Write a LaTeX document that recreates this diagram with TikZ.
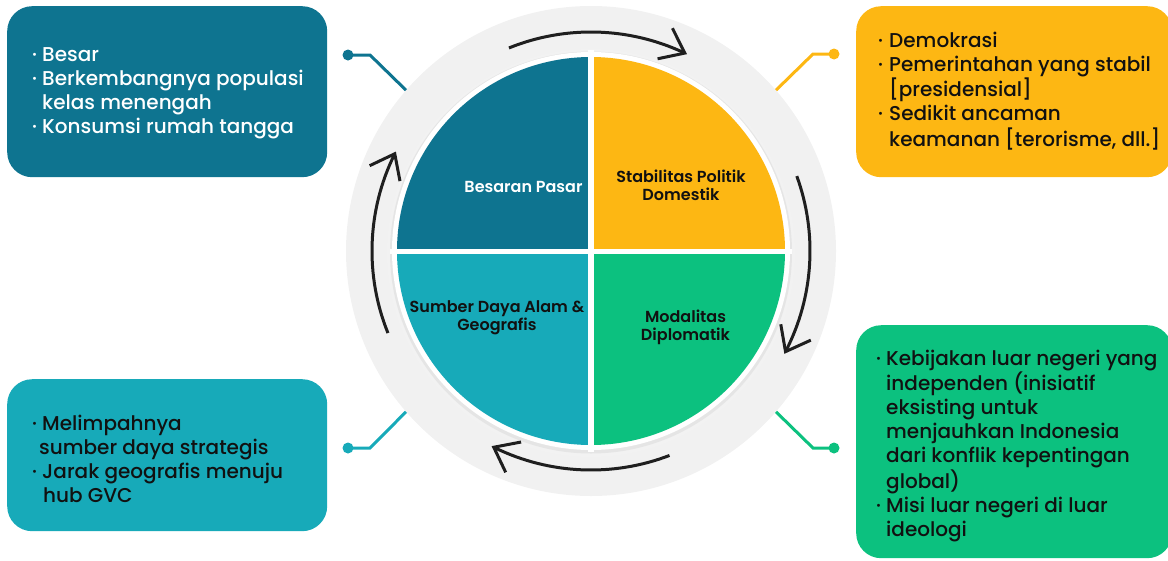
\documentclass[tikz,border=0pt]{standalone}
\usepackage{fontspec}
\setmainfont{Poppins}
\newfontface\pmed{Poppins Medium}
\newfontface\psemi{Poppins SemiBold}
\usetikzlibrary{arrows.meta,bending}
\definecolor{cA}{HTML}{0E7490}
\definecolor{cB}{HTML}{17AAB9}
\definecolor{cC}{HTML}{FDB713}
\definecolor{cD}{HTML}{0CC17F}
\definecolor{ringgray}{HTML}{F1F1F1}
\definecolor{txt}{HTML}{111111}
\newcommand{\myb}[1][10pt]{\makebox[#1][l]{·}}
\newcommand{\myi}[1][10pt]{\hspace*{#1}}
\begin{document}
\begin{tikzpicture}[x=1pt,y=1pt,
  infobox/.style={rounded corners=25pt, inner sep=0pt, anchor=north west},
  conn/.style={line width=3pt},
  dot/.style={circle, inner sep=0pt, minimum size=11pt},
  cyc/.style={line width=3pt, draw=black!88, -{Straight Barb[length=22pt,width=34pt,flex]}},
  boxtxt/.style={anchor=base west, inner sep=0pt, font=\pmed\fontsize{20}{24}\selectfont},
  qlab/.style={anchor=base, inner sep=0pt, font=\psemi\fontsize{16}{18.5}\selectfont}
]
\useasboundingbox (0,0) rectangle (1168,-560);

% info boxes
\node[infobox, fill=cA, minimum width=320pt, minimum height=171pt] (b1) at (7,-6) {};
\node[infobox, fill=cB, minimum width=320pt, minimum height=152pt] (b2) at (7,-379) {};
\node[infobox, fill=cC, minimum width=316pt, minimum height=171pt] (b3) at (856,-6) {};
\node[infobox, fill=cD, minimum width=316pt, minimum height=233pt] (b4) at (856,-325) {};

% ring
\node[circle, fill=ringgray, inner sep=0pt, minimum size=490pt] (ring) at (591,-251) {};

% pie
\fill[black!5] (591,-253) circle[radius=204];
\fill[black!10] (591,-252.5) circle[radius=201];
\fill[white] (591,-251) circle[radius=199];
\fill[cA] (591,-251) -- ++(0,194) arc[start angle=90, end angle=180, radius=194] -- cycle;
\fill[cC] (591,-251) -- ++(194,0) arc[start angle=0, end angle=90, radius=194] -- cycle;
\fill[cB] (591,-251) -- ++(-194,0) arc[start angle=180, end angle=270, radius=194] -- cycle;
\fill[cD] (591,-251) -- ++(0,-194) arc[start angle=270, end angle=360, radius=194] -- cycle;
\draw[white, line width=6pt] (591,-50) -- (591,-452);
\draw[white, line width=5pt] (390,-251) -- (792,-251);

% cycle arrows
\draw[cyc] ([shift={(112:219)}]ring.center) arc[start angle=112, end angle=64, radius=219];
\draw[cyc] ([shift={(20:219)}]ring.center) arc[start angle=20, end angle=-28, radius=219];
\draw[cyc] ([shift={(-69:219)}]ring.center) arc[start angle=-69, end angle=-117, radius=219];
\draw[cyc] ([shift={(202:219)}]ring.center) arc[start angle=202, end angle=153, radius=219];

% connectors
\node[dot, fill=cA] (d1) at (348,-55) {};
\node[dot, fill=cB] (d2) at (348,-448) {};
\node[dot, fill=cC] (d3) at (834,-54) {};
\node[dot, fill=cD] (d4) at (834,-448) {};
\draw[conn, cA] (d1.center) -- (370,-55) -- (ring.139);
\draw[conn, cB] (d2.center) -- (370,-448) -- (ring.221);
\draw[conn, cC] (d3.center) -- (813,-54) -- (ring.41);
\draw[conn, cD] (d4.center) -- (813,-448) -- (ring.-41);

% quadrant labels
\node[qlab, text=white] (qa) at (523.5,-192) {Besaran Pasar};
\node[qlab, text=txt] (qc) at (681,-182) {\begin{tabular}[t]{@{}c@{}}Stabilitas Politik\\Domestik\end{tabular}};
\node[qlab, text=txt] (qb) at (497,-312) {\begin{tabular}[t]{@{}c@{}}Sumber Daya Alam \&\\Geografis\end{tabular}};
\node[qlab, text=txt] (qd) at (685.5,-322) {\begin{tabular}[t]{@{}c@{}}Modalitas\\Diplomatik\end{tabular}};

% box texts
\node[boxtxt, text=white] (t1) at (32,-61) {\begin{tabular}[t]{@{}l@{}}\myb Besar\\ \myb Berkembangnya populasi\\ \myi kelas menengah\\ \myb Konsumsi rumah tangga\end{tabular}};
\node[boxtxt, text=txt] (t2) at (32,-430) {\begin{tabular}[t]{@{}l@{}}\myb Melimpahnya\\ \myi[7pt]sumber daya strategis\\ \myb Jarak geografis menuju\\ \myi[11pt]hub GVC\end{tabular}};
\node[boxtxt, text=txt] (t3) at (878,-47) {\begin{tabular}[t]{@{}l@{}}\myb[11pt]Demokrasi\\ \myb[11pt]Pemerintahan yang stabil\\ \myi[11pt][presidensial]\\ \myb[11pt]Sedikit ancaman\\ \myi[11pt]keamanan [terorisme, dll.]\end{tabular}};
\node[boxtxt, text=txt] (t4) at (876,-365) {\begin{tabular}[t]{@{}l@{}}\myb Kebijakan luar negeri yang\\ \myi independen (inisiatif\\ \myi eksisting untuk\\ \myi menjauhkan Indonesia\\ \myi dari konflik kepentingan\\ \myi global)\\ \myb Misi luar negeri di luar\\ \myi ideologi\end{tabular}};
\end{tikzpicture}
\end{document}
